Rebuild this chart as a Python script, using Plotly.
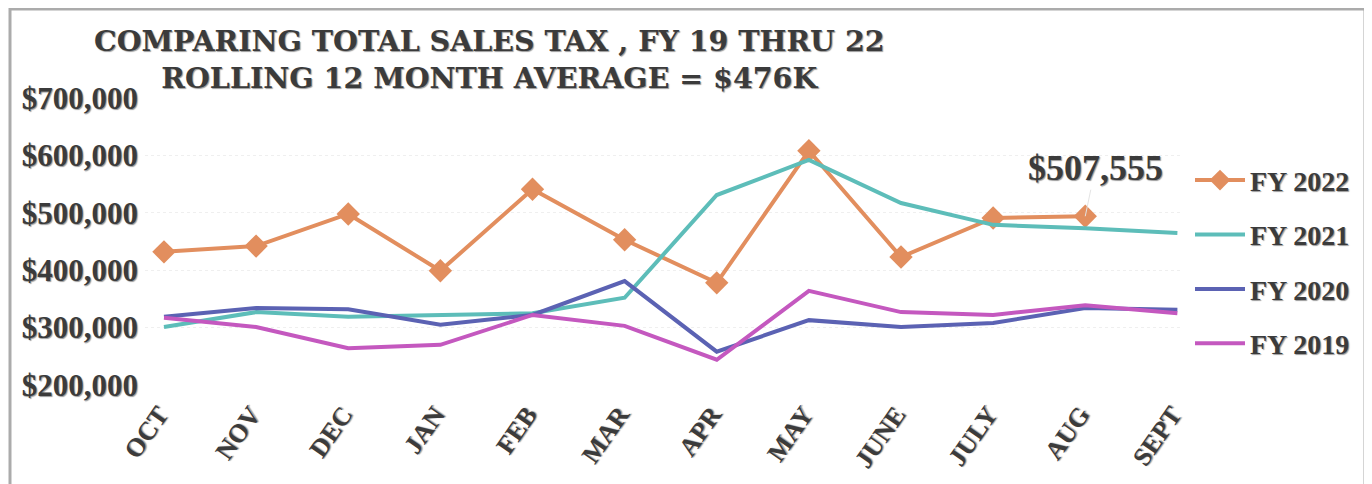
import plotly.graph_objects as go

months = ["OCT", "NOV", "DEC", "JAN", "FEB", "MAR", "APR", "MAY", "JUNE", "JULY", "AUG", "SEPT"]
fy2022 = [432000, 442000, 498000, 399000, 541000, 453000, 378000, 608000, 423000, 491000, 494000]
fy2021 = [301000, 327000, 319000, 322000, 325000, 352000, 531000, 592000, 517000, 479000, 473000, 465000]
fy2020 = [319000, 334000, 332000, 305000, 322000, 381000, 258000, 313000, 301000, 308000, 334000, 331000]
fy2019 = [317000, 301000, 264000, 270000, 322000, 303000, 244000, 364000, 327000, 322000, 339000, 325000]
y_ticks = [200000, 300000, 400000, 500000, 600000, 700000]
y_tick_text = ["$200,000", "$300,000", "$400,000", "$500,000", "$600,000", "$700,000"]
title_lines = ["COMPARING TOTAL SALES TAX , FY 19 THRU 22", "ROLLING 12 MONTH AVERAGE = $476K"]
callout = "$507,555"

TXT = "#3b3b3b"
SHADOW = "1px 1px 1px #9a9a9a"
SERIF = "Liberation Serif"

W, H = 1364, 476
L, T, R, B = 137, 90, 190, 99
PW = W - L - R
PH = H - T - B

fig = go.Figure()
fig.add_trace(go.Scatter(x=months[:len(fy2022)], y=fy2022, name="FY 2022", mode="lines+markers",
                         line=dict(color="#E28E5E", width=4),
                         marker=dict(symbol="diamond", size=18, color="#E28E5E"),
                         legendgroup="a"))
fig.add_trace(go.Scatter(x=months, y=fy2021, name="FY 2021", mode="lines",
                         line=dict(color="#5DBDB9", width=4), legendgroup="b"))
fig.add_trace(go.Scatter(x=months, y=fy2020, name="FY 2020", mode="lines",
                         line=dict(color="#5B62B3", width=4), legendgroup="c"))
fig.add_trace(go.Scatter(x=months, y=fy2019, name="FY 2019", mode="lines",
                         line=dict(color="#C458BF", width=4), legendgroup="d"))

fig.add_annotation(x=months[10], y=fy2022[10], text=callout, showarrow=True,
                   arrowhead=0, arrowwidth=1, arrowcolor="#e4e4e4", ax=10, ay=-48,
                   font=dict(family=SERIF, size=36, color=TXT, weight="bold", shadow=SHADOW))

fig.add_annotation(xref="paper", yref="paper", x=0.332, y=1.0, yshift=76, xanchor="center", yanchor="top",
                   text="<br>".join(title_lines), showarrow=False, align="center",
                   font=dict(family="DejaVu Serif", size=28.5, color=TXT, weight="bold", shadow=SHADOW))

fig.add_shape(type="rect", xref="paper", yref="paper",
              x0=(2 - L) / PW, x1=(1357 - L) / PW, y0=-(H + 20 - (T + PH)) / PH, y1=1.0 + (T - 1) / PH,
              line=dict(color="#ababab", width=3), fillcolor="rgba(0,0,0,0)", layer="below")

fig.update_layout(
    width=W, height=H,
    margin=dict(l=L, r=R, t=T, b=B, autoexpand=False),
    paper_bgcolor="white", plot_bgcolor="white",
    showlegend=True,
    legend=dict(x=1.0 + 8 / PW, y=0.80, xanchor="left", yanchor="top",
                font=dict(family=SERIF, size=28, color=TXT, weight="bold", shadow=SHADOW),
                tracegroupgap=15, bgcolor="rgba(0,0,0,0)", itemwidth=50),
    xaxis=dict(type="category", range=[-0.206, 11.05], showline=False, showgrid=False,
               ticks="", tickangle=-55, ticklabelstandoff=8, ticklabelshift=-5,
               tickfont=dict(family=SERIF, size=26, color=TXT, weight="bold", shadow=SHADOW)),
    yaxis=dict(range=[200000, 700000], tickvals=y_ticks, ticktext=y_tick_text,
               showline=False, zeroline=False, showgrid=True, gridcolor="#efefef", griddash="dot",
               ticks="", ticklabelstandoff=6,
               tickfont=dict(family=SERIF, size=31, color=TXT, weight="bold", shadow=SHADOW)),
)

fig.write_html("out.html")
